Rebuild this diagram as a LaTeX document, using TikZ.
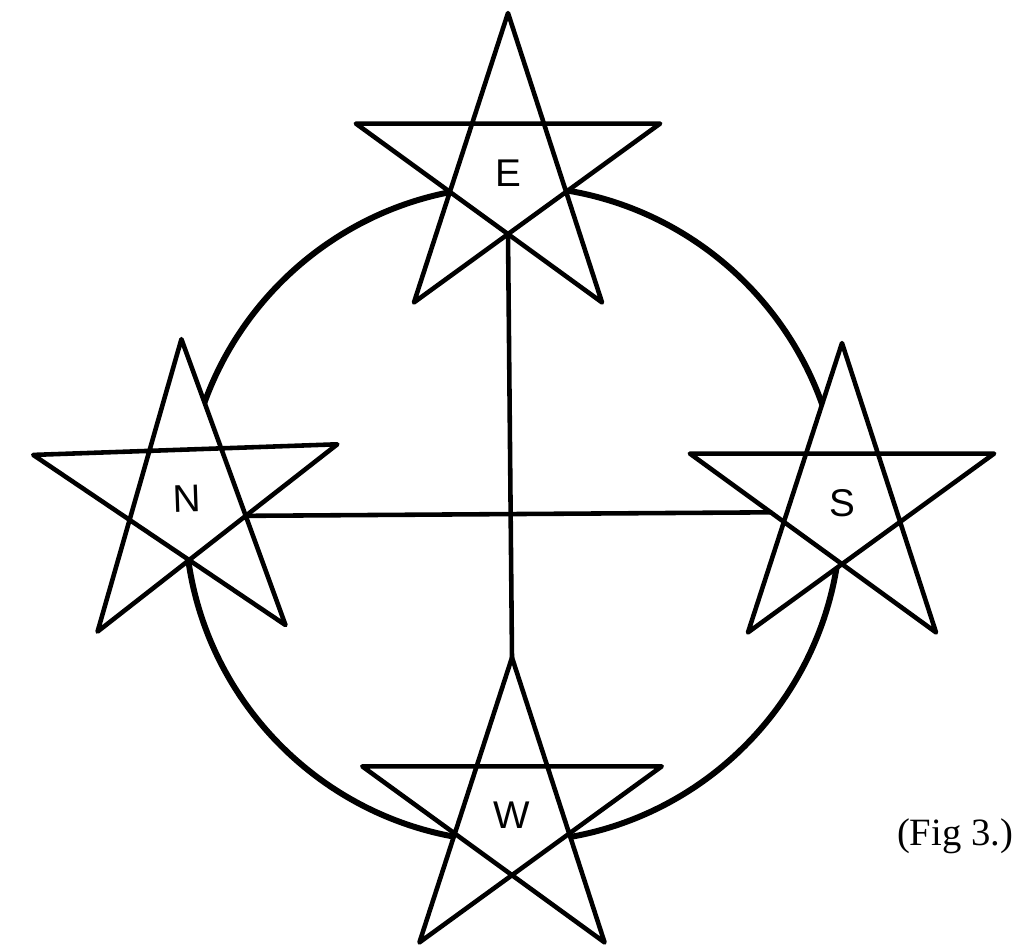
\documentclass[tikz,border=0pt]{standalone}
\usepackage{fontspec}
\setmainfont{Liberation Serif}
\setsansfont{Liberation Sans}
\usetikzlibrary{shapes.geometric, calc}

\tikzset{
  pentacle/.style={star, star points=5, star point ratio=2.618, minimum size=6.4cm,
    inner sep=0pt, outer sep=0pt, fill=white, font=\sffamily\fontsize{22}{24}\selectfont},
  starline/.style={line width=2.6pt, line join=round, line cap=round},
  ringline/.style={line width=3.4pt},
  crossline/.style={line width=2.6pt, line cap=round}
}

% pentagram through the outer points of a star node
\newcommand{\pentagram}[1]{\draw[starline] (#1.outer point 1) -- (#1.outer point 3) -- (#1.outer point 5) -- (#1.outer point 2) -- (#1.outer point 4) -- cycle;}

\begin{document}
\begin{tikzpicture}[x=0.02cm, y=-0.02cm]
  \useasboundingbox (0,0) rectangle (1022,951);

  % Ring behind the four stars
  \coordinate (ring) at (513,514);
  \draw[ringline] (ring) circle [radius=6.56cm];

  % The four stars (white fill hides the ring inside them)
  \node[pentacle] (E) at (508,173) {E};
  \node[pentacle, rotate=2] (N) at (187,499) {N};
  \node[pentacle] (S) at (842,503) {S};
  \node[pentacle, minimum size=6.3cm] (W) at (512,815) {W};
  \pentagram{E} \pentagram{N} \pentagram{S} \pentagram{W}

  % Cross lines
  \draw[crossline] (E.inner point 3) -- (W.outer point 1);
  \draw[crossline] (N.inner point 4) -- ($(S.outer point 2)!0.86!(S.inner point 2)$);

  % Caption
  \node[font=\fontsize{22}{26}\selectfont] (caption) at (955,836) {(Fig 3.)};
\end{tikzpicture}
\end{document}
